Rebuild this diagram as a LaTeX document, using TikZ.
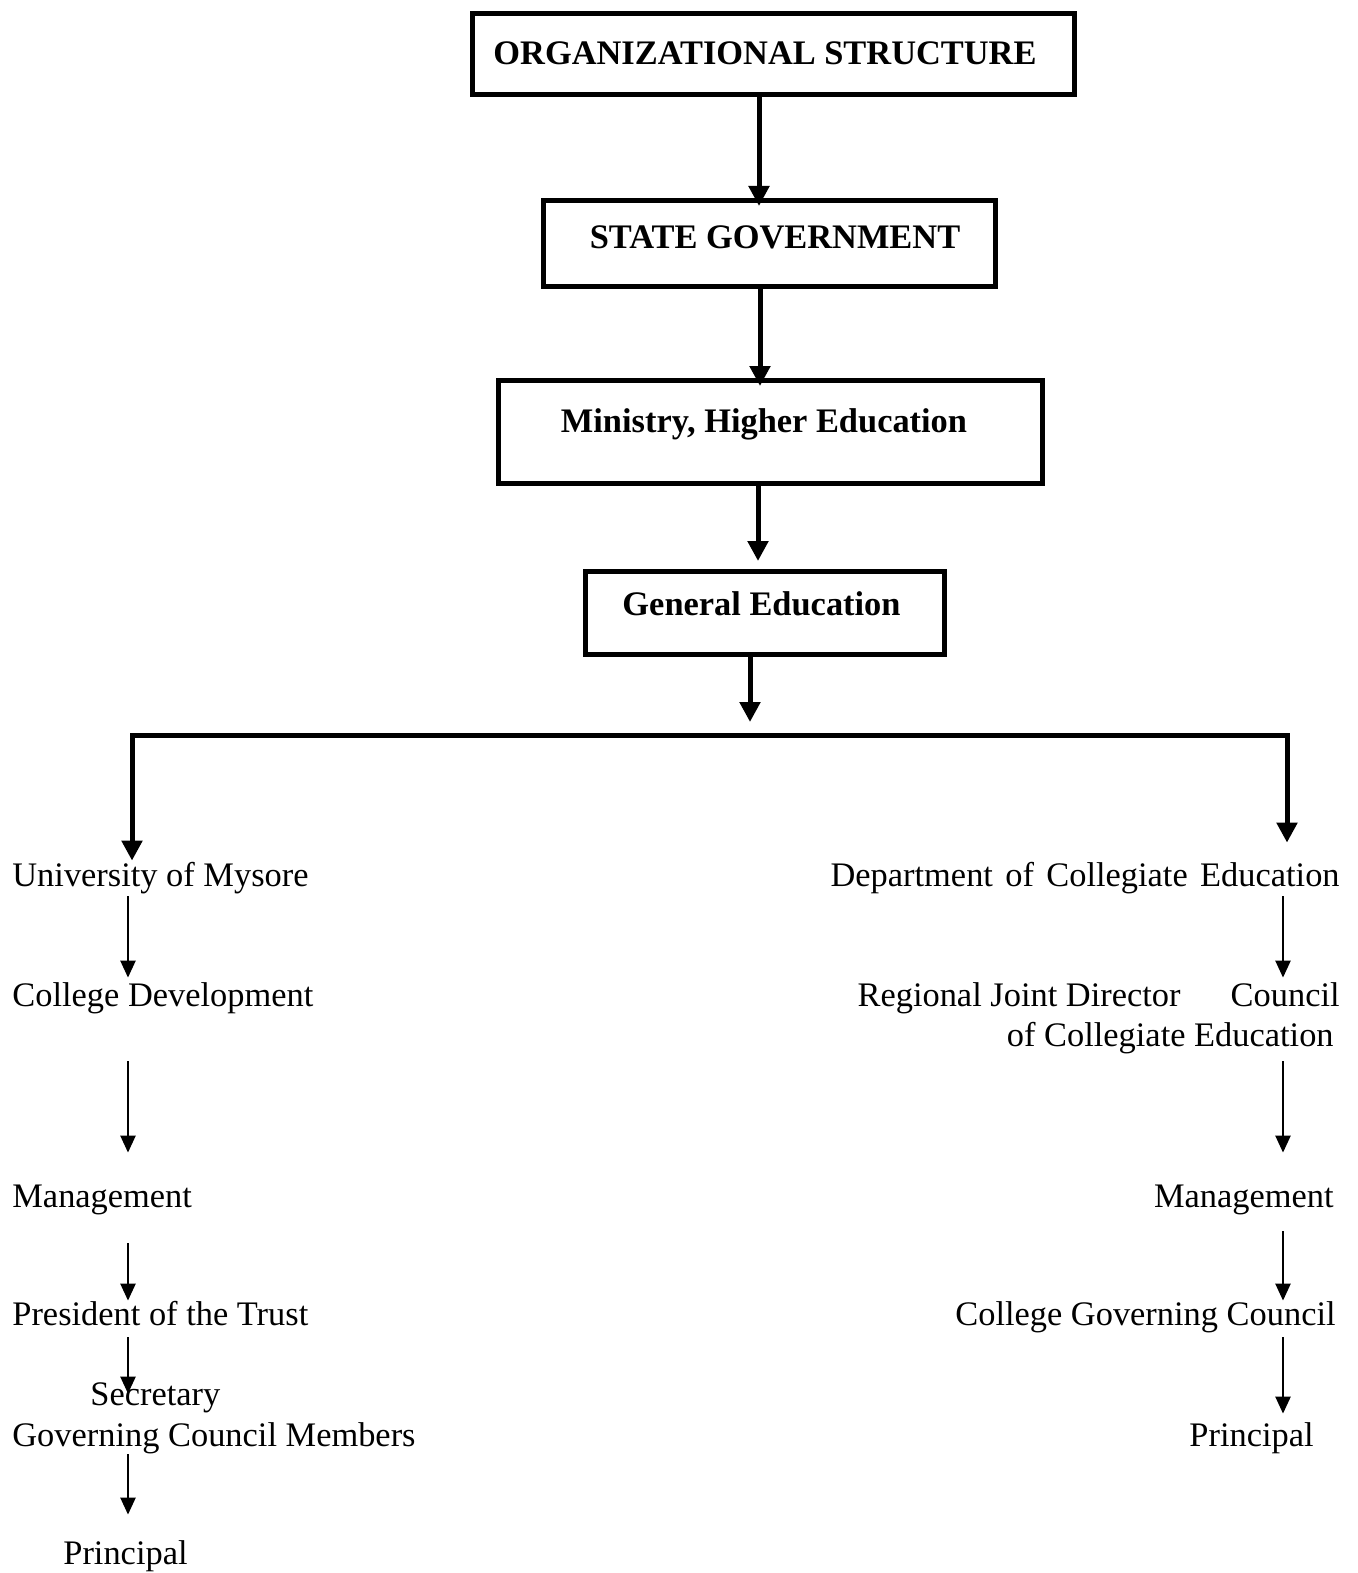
\documentclass[tikz,border=0pt]{standalone}
\usepackage{fontspec}
\setmainfont{Liberation Serif}
\usetikzlibrary{arrows.meta}

\begin{document}
\begin{tikzpicture}[x=0.5pt, y=-0.5pt,
    font=\fontsize{17.2}{20}\selectfont,
    box/.style={draw, line width=2.5pt, anchor=north, inner sep=0pt,
        font=\fontsize{17.2}{20}\selectfont\bfseries},
    txt/.style={inner sep=0pt, text height=14pt, text depth=4pt},
    trunk/.style={line width=2.5pt, -{Triangle[width=10pt,length=10pt]}},
    twig/.style={line width=1.2pt, -{Triangle[width=7.5pt,length=8.5pt]}}]
    \useasboundingbox (0,0) rectangle (1358,1573);

    % boxes at the top
    \node[box, minimum width=301pt, text height=25.5pt, text depth=15pt] (org) at (773,11) {ORGANIZATIONAL STRUCTURE\hspace*{8pt}};
    \node[box, minimum width=226pt, text height=24pt, text depth=19pt] (state) at (769,198) {\hspace*{6pt}STATE GOVERNMENT};
    \node[box, minimum width=272pt, text height=26pt, text depth=25.5pt] (minis) at (770,378) {Ministry, Higher Education\hspace*{6pt}};
    \node[box, minimum width=179.5pt, text height=22pt, text depth=19.5pt] (gen) at (764.5,569) {General Education\hspace*{3pt}};

    \draw[trunk, shorten >=-4pt] ([xshift=-7pt]org.south) -- ([xshift=-5pt]state.north);
    \draw[trunk, shorten >=-4pt] ([xshift=-4.5pt]state.south) -- ([xshift=-5pt]minis.north);
    \draw[trunk, shorten >=4pt] ([xshift=-6pt]minis.south) -- ([xshift=-3.25pt]gen.north);

    \coordinate (busM) at (750,722);
    \coordinate (busL) at (132,735);
    \coordinate (busR) at (1287,735);
    \coordinate (colL) at (128,0);
    \coordinate (colR) at (1283,0);

    % left column
    \node[txt, anchor=base west] (univ) at (12,886) {University of Mysore};
    \node[txt, anchor=base west] (cdev) at (12,1006) {College Development};
    \node[txt, anchor=base west] (mgmtL) at (12,1207) {Management};
    \node[txt, anchor=base west] (pres) at (12,1325) {President of the Trust};
    \node[txt, anchor=base west] (secr) at (90,1405) {Secretary};
    \node[txt, anchor=base west] (gcm) at (12,1446) {Governing Council Members};
    \node[txt, anchor=base west] (prinL) at (63,1564) {Principal};

    % right column
    \node[txt, anchor=base east] (dept) at (1340,886) {\makebox[254.5pt][s]{Department of Collegiate Education}};
    \node[txt, anchor=base east] (rjd) at (1340,1006) {\makebox[241pt][l]{Regional Joint Director\hfill Council}};
    \node[txt, anchor=base east] (rjd2) at (1334,1046) {of Collegiate Education};
    \node[txt, anchor=base east] (mgmtR) at (1334,1207) {Management};
    \node[txt, anchor=base east] (cgc) at (1336,1325) {College Governing Council};
    \node[txt, anchor=base east] (prinR) at (1314,1446) {Principal};

    \draw[trunk] ([xshift=-7.25pt]gen.south) -- (busM);
    \draw[line width=2.5pt, {Triangle[width=10pt,length=10pt]}-{Triangle[width=10pt,length=10pt]},
        shorten <=-1.5pt, shorten >=7.5pt]
        (busL |- univ.north) -- (busL) -- (busR) -- (busR |- dept.north);

    \foreach \a/\b/\s/\t in {univ/cdev/1pt/0pt, cdev/mgmtL/23.5pt/13pt, mgmtL/pres/14pt/-2pt,
        pres/secr/2pt/-8.5pt, gcm/prinL/0pt/10.5pt}
    \draw[twig, shorten <=\s, shorten >=\t] (\a.south -| colL) -- (\b.north -| colL);
    \foreach \a/\b/\s/\t in {dept/rjd/1pt/0pt, rjd2/mgmtR/3.5pt/13pt, mgmtR/cgc/8pt/-2pt,
        cgc/prinR/2pt/2pt}
    \draw[twig, shorten <=\s, shorten >=\t] (\a.south -| colR) -- (\b.north -| colR);
\end{tikzpicture}
\end{document}
